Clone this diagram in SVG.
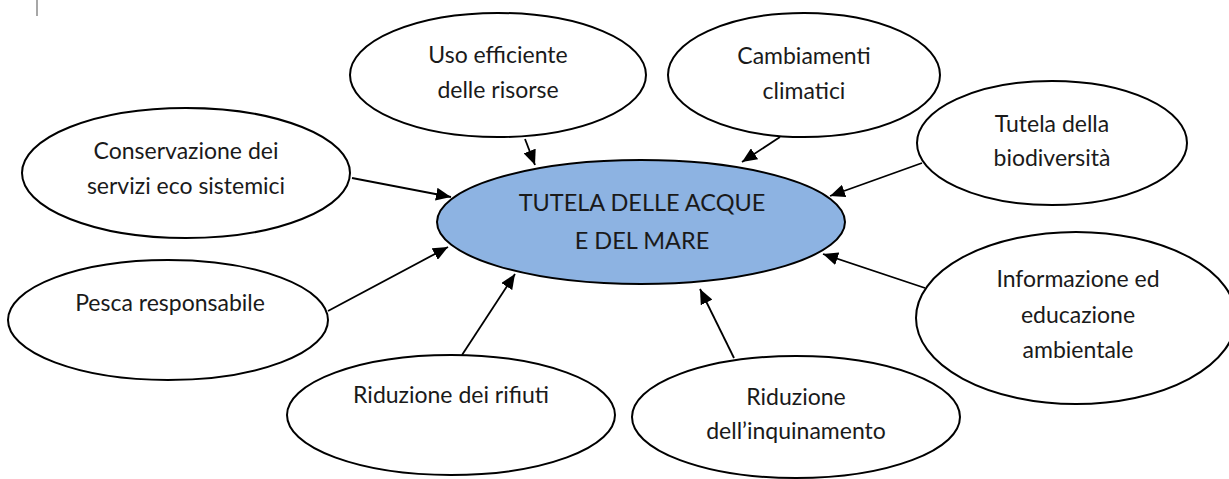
<svg xmlns="http://www.w3.org/2000/svg" width="1229" height="479" viewBox="0 0 1229 479">
<style>
.node{fill:#ffffff;stroke:#000000;stroke-width:2}
.main{fill:#8db3e2;stroke:#000000;stroke-width:2}
.t{font-family:Lato,"Open Sans","Liberation Sans",sans-serif;font-size:23px;fill:#1a1a1a;text-anchor:middle}
.tm{font-family:Lato,"Open Sans","Liberation Sans",sans-serif;font-size:23.5px;fill:#1a1a1a;text-anchor:middle}
.c{stroke:#000000;stroke-width:1.8;fill:none;marker-end:url(#ah)}
</style>
<defs>
<marker id="ah" markerWidth="16" markerHeight="13" refX="15" refY="6.5" orient="auto" markerUnits="userSpaceOnUse">
<path d="M0,0 L15,6.5 L0,13 Z" fill="#000000"/>
</marker>
</defs>
<line x1="37" y1="0" x2="37" y2="16" stroke="#8a8a8a" stroke-width="1.5"/>
<g id="connectors">
<line class="c" x1="352" y1="178" x2="451" y2="197"/>
<line class="c" x1="525" y1="139" x2="535" y2="165"/>
<line class="c" x1="780" y1="137" x2="742" y2="162"/>
<line class="c" x1="922" y1="163" x2="830" y2="196"/>
<line class="c" x1="328" y1="311" x2="448" y2="247"/>
<line class="c" x1="462" y1="355" x2="515" y2="274"/>
<line class="c" x1="734" y1="358" x2="700" y2="289"/>
<line class="c" x1="925" y1="288" x2="823" y2="254"/>
</g>
<g id="n-uso">
<ellipse class="node" cx="498" cy="75" rx="148" ry="62"/>
<text class="t" x="498" y="63">Uso efficiente</text>
<text class="t" x="498" y="98">delle risorse</text>
</g>
<g id="n-cambiamenti">
<ellipse class="node" cx="804" cy="75" rx="136" ry="62"/>
<text class="t" x="804" y="64">Cambiamenti</text>
<text class="t" x="804" y="99">climatici</text>
</g>
<g id="n-biodiversita">
<ellipse class="node" cx="1052" cy="143" rx="135" ry="62"/>
<text class="t" x="1052" y="132">Tutela della</text>
<text class="t" x="1052" y="166">biodiversità</text>
</g>
<g id="n-conservazione">
<ellipse class="node" cx="186" cy="173" rx="164" ry="65"/>
<text class="t" x="186" y="159">Conservazione dei</text>
<text class="t" x="186" y="194">servizi eco sistemici</text>
</g>
<g id="n-pesca">
<ellipse class="node" cx="168" cy="320" rx="160" ry="60"/>
<text class="t" x="170" y="311">Pesca responsabile</text>
</g>
<g id="n-rifiuti">
<ellipse class="node" cx="451" cy="415" rx="164" ry="60"/>
<text class="t" x="451" y="403">Riduzione dei rifiuti</text>
</g>
<g id="n-inquinamento">
<ellipse class="node" cx="796" cy="417" rx="164" ry="61"/>
<text class="t" x="796" y="405">Riduzione</text>
<text class="t" x="796" y="439">dell’inquinamento</text>
</g>
<g id="n-informazione">
<ellipse class="node" cx="1076" cy="318" rx="160" ry="86"/>
<text class="t" x="1078" y="287">Informazione ed</text>
<text class="t" x="1078" y="323">educazione</text>
<text class="t" x="1078" y="358">ambientale</text>
</g>
<g id="n-center">
<ellipse class="main" cx="641" cy="222" rx="204" ry="62"/>
<text class="tm" x="642" y="211">TUTELA DELLE ACQUE</text>
<text class="tm" x="642" y="249">E DEL MARE</text>
</g>
</svg>
